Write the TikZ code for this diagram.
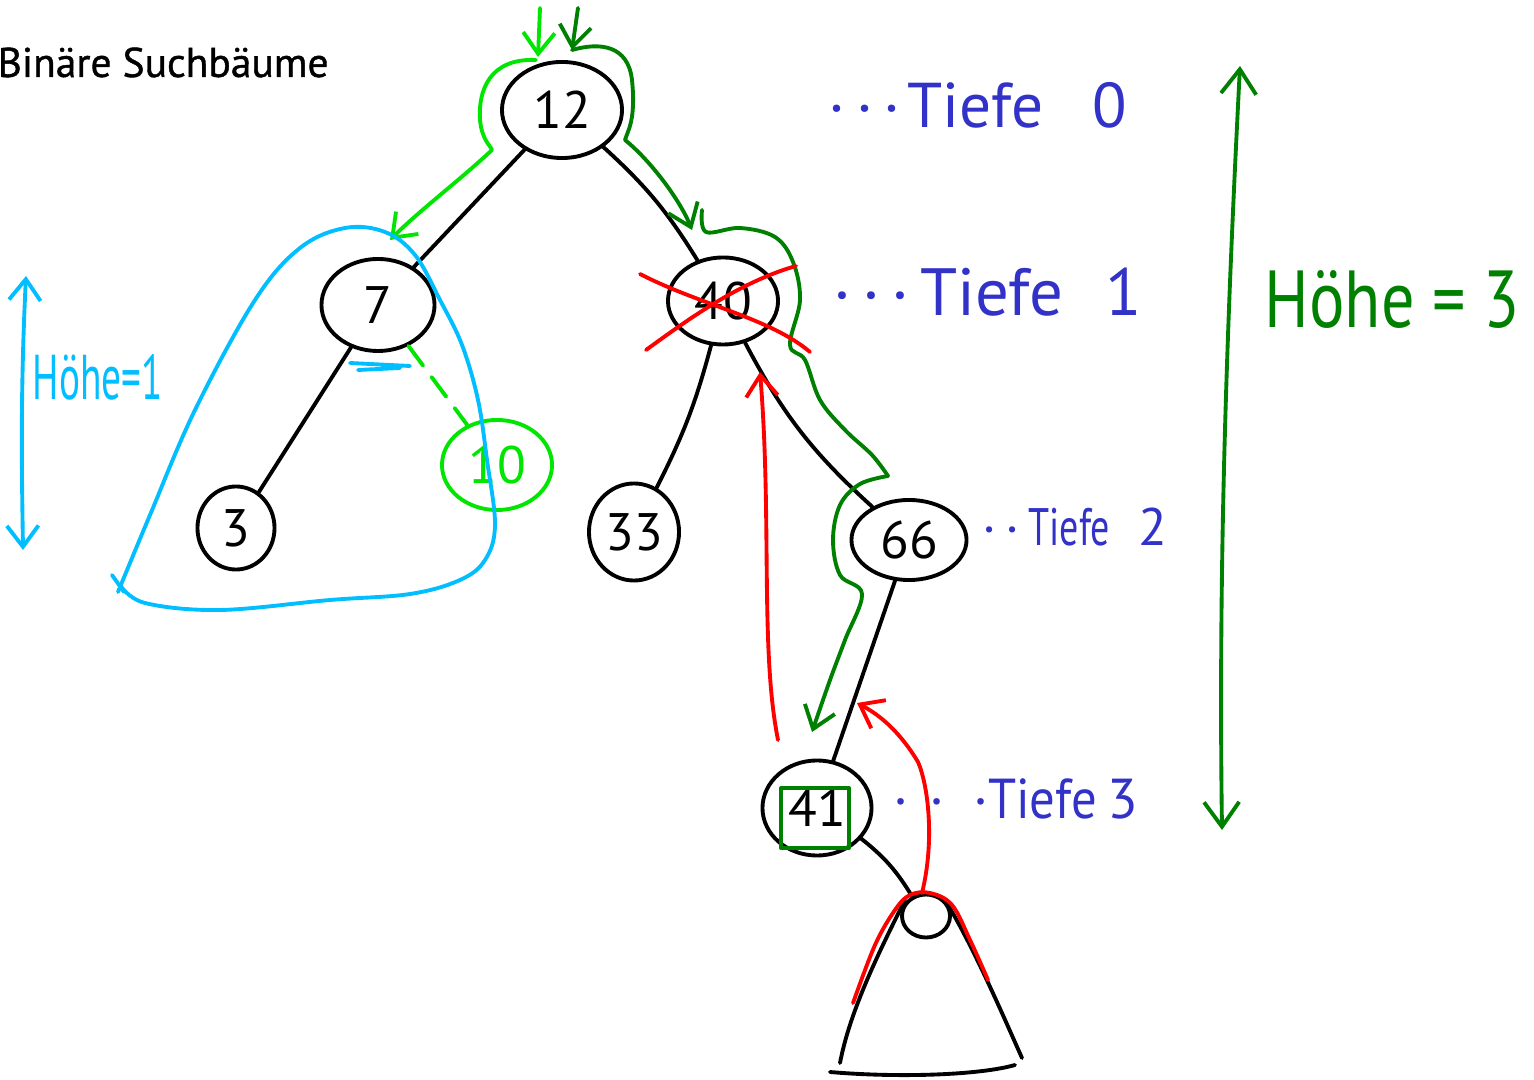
\documentclass[tikz,border=0pt]{standalone}
\usepackage{fontspec}
\setmainfont{PT Sans}
\usetikzlibrary{shapes.geometric,arrows.meta}

\definecolor{hellgruen}{RGB}{0,230,0}
\definecolor{dunkelgruen}{RGB}{0,128,0}
\definecolor{tiefblau}{RGB}{50,50,200}
\definecolor{hcyan}{RGB}{0,190,255}

\begin{document}
\begin{tikzpicture}[x=0.01cm,y=-0.01cm,
    pen/.style={line width=1.1pt, line cap=round, line join=round},
    knoten/.style={ellipse, draw, pen, inner sep=0pt, font=\fontsize{15}{15}\selectfont},
    tiefe/.style={tiefblau, anchor=base west, inner sep=0pt, font=\fontsize{18}{18}\selectfont},
    spitze/.style={-{Straight Barb[length=6pt,width=9pt]}}]

\useasboundingbox (0,0) rectangle (1534,1080);

\node[anchor=base west, inner sep=0pt, font=\fontsize{11.8}{14}\selectfont\addfontfeature{FakeBold=1}] (titel) at (-3,77) {Binäre Suchbäume};

% Baum
\node[knoten, minimum width=1.2cm, minimum height=0.96cm] (n12) at (562,110) {12};
\node[knoten, minimum width=1.13cm, minimum height=0.92cm] (n7) at (378,305) {7};
\node[knoten, minimum width=0.77cm, minimum height=0.83cm] (n3) at (236,528) {3};
\node[knoten, draw=hellgruen, text=hellgruen, minimum width=1.1cm, minimum height=0.9cm] (n10) at (497,465) {10};
\node[knoten, minimum width=1.1cm, minimum height=0.87cm] (n40) at (723,301) {40};
\node[knoten, minimum width=0.9cm, minimum height=0.97cm] (n33) at (634,532) {33};
\node[knoten, minimum width=1.15cm, minimum height=0.8cm] (n66) at (909,540) {66};
\node[knoten, minimum width=1.09cm, minimum height=0.95cm] (n41) at (817,808) {41};
\node[draw=dunkelgruen, pen, minimum width=0.68cm, minimum height=0.6cm] (box41) at (815,818) {};
\node[knoten, minimum width=0.48cm, minimum height=0.43cm] (n0) at (926,916) {};

\draw[pen] (n12) -- (n7);
\draw[pen] (n12) to[bend left=8] (n40);
\draw[pen] (n7) -- (n3);
\draw[pen, hellgruen, dash pattern=on 7pt off 4pt] (n7) -- (n10);
\draw[pen] (n40) to[bend left=6] (n33);
\draw[pen] (n40) to[bend right=10] (n66);
\draw[pen] (n66) -- (n41);
\draw[pen] (n41) to[bend left=10] (n0);

% Teilbaum unter 41
\draw[pen] (905,900) .. controls (880,950) and (850,1010) .. (840,1063);
\draw[pen] (948,905) .. controls (975,950) and (1005,1020) .. (1022,1058);
\draw[pen] (830,1072) .. controls (900,1078) and (980,1075) .. (1015,1065);

% Einfuegen von 10
\draw[pen, hellgruen, spitze] (540,8) -- (538,57);
\draw[pen, hellgruen, spitze] (536,60) .. controls (490,58) and (478,90) .. (480,120) .. controls (482,140) and (490,145) .. (492,150) .. controls (460,180) and (420,210) .. (390,240);

% Suche nach 41
\draw[pen, dunkelgruen, spitze] (578,8) -- (572,50);
\draw[pen, dunkelgruen, spitze] (572,50) .. controls (600,42) and (628,45) .. (632,80) .. controls (636,120) and (628,130) .. (625,140) .. controls (650,160) and (680,200) .. (692,230);
\draw[pen, dunkelgruen] plot[smooth, tension=0.6] coordinates {(702,210) (706,232) (740,228) (775,237) (793,262) (800,300) (790,345) (805,360) (820,400) (845,430) (872,455) (888,476)};
\draw[pen, dunkelgruen, spitze] plot[smooth, tension=0.6] coordinates {(888,476) (860,484) (840,505) (833,540) (840,575) (862,594) (845,640) (830,680) (812,732)};

% Loeschen von 40
\draw[pen, red] (640,274) .. controls (700,305) and (770,318) .. (810,352);
\draw[pen, red] (646,350) .. controls (690,318) and (740,282) .. (796,266);
\draw[pen, red, spitze] (778,740) .. controls (760,650) and (772,520) .. (760,372);
\draw[pen, red] plot[smooth, tension=0.6] coordinates {(853,1003) (875,945) (895,910) (910,895) (930,893) (952,905) (970,940) (988,980)};
\draw[pen, red, spitze] (922,893) .. controls (935,840) and (928,785) .. (918,762) .. controls (900,732) and (880,715) .. (857,703);

% Teilbaum von 7
\draw[pen, hcyan] plot[smooth, tension=0.6] coordinates {(118,592) (150,515) (195,410) (255,300) (300,248) (345,228) (385,232) (415,255) (440,300) (462,345) (478,400) (487,460) (495,525) (485,560) (460,580) (410,594) (330,600) (220,610) (145,603) (120,585)};
\draw[pen, hcyan] (112,575) -- (124,592);
\draw[pen, hcyan] (350,363) -- (410,366) (358,370) -- (400,368);
\draw[pen, hcyan, {Straight Barb[length=6pt,width=9pt]}-{Straight Barb[length=6pt,width=9pt]}] (26,276) .. controls (20,400) and (22,480) .. (23,550);
\node[hcyan, anchor=base west, inner sep=0pt, font=\fontsize{18}{18}\selectfont] (hoehe1) at (32,400) {\scalebox{0.62}[1]{Höhe=1}};

% Hoehe des Baums
\draw[pen, dunkelgruen, {Straight Barb[length=7pt,width=10pt]}-{Straight Barb[length=7pt,width=10pt]}] (1240,66) .. controls (1228,300) and (1218,550) .. (1222,830);
\node[dunkelgruen, anchor=base west, inner sep=0pt, font=\fontsize{23}{23}\selectfont] (hoehe3) at (1264,328) {\scalebox{0.82}[1]{Höhe = 3}};

% Tiefen
\node[tiefe] (t0) at (828,128) {·\,·\,·\hspace{2pt}Tiefe\hspace{14pt}0};
\node[tiefe, font=\fontsize{19}{19}\selectfont] (t1) at (833,316) {·\,·\,·\hspace{3pt}Tiefe\hspace{12pt}1};
\node[tiefe, font=\fontsize{15}{15}\selectfont] (t2) at (982,546) {·\,·\,\scalebox{0.72}[1]{Tiefe}\hspace{8pt}2};
\node[tiefe, font=\fontsize{16}{16}\selectfont] (t3) at (893,818) {·\hspace{6pt}·\hspace{8pt}·\scalebox{0.9}[1]{Tiefe}\hspace{3pt}3};

\end{tikzpicture}
\end{document}
